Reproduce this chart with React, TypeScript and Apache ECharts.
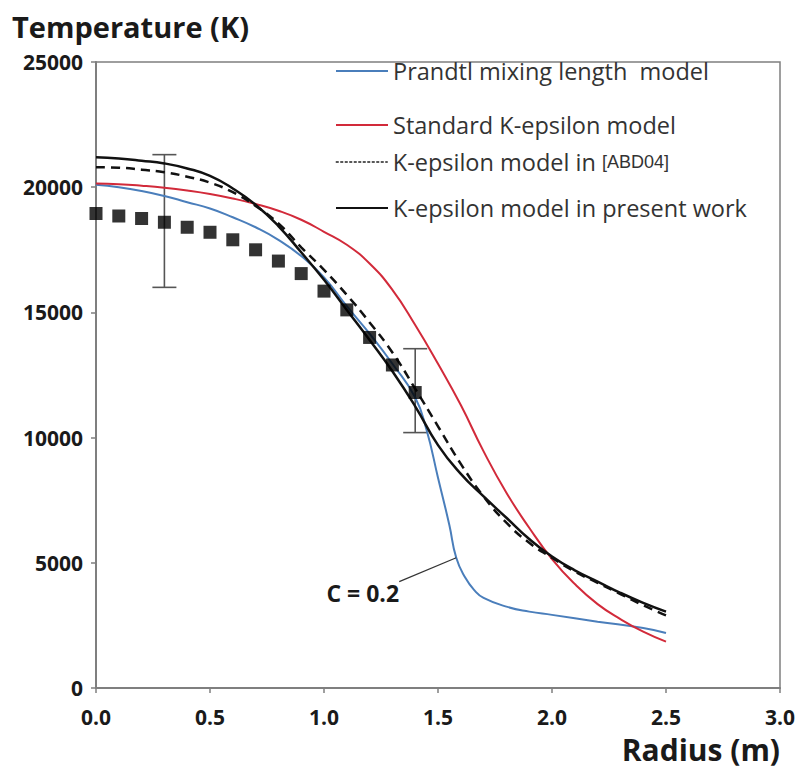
import React, { useEffect, useRef } from "react";
import * as echarts from "echarts";

// Radius (m) / temperature (K) samples for each model curve
const PRANDTL: [number, number][] = [
  [0, 20100], [0.1, 20000], [0.2, 19850], [0.3, 19650], [0.4, 19400], [0.5, 19150],
  [0.6, 18800], [0.7, 18400], [0.8, 17900], [0.9, 17250], [1.0, 16400], [1.1, 15250],
  [1.2, 14150], [1.3, 12950], [1.4, 11600], [1.45, 10300], [1.5, 8400], [1.55, 6500],
  [1.58, 5200], [1.62, 4400], [1.66, 3900], [1.7, 3600], [1.8, 3250], [1.9, 3050],
  [2.0, 2920], [2.2, 2650], [2.4, 2400], [2.5, 2200],
];
const STANDARD_KE: [number, number][] = [
  [0, 20150], [0.1, 20120], [0.2, 20060], [0.3, 19980], [0.4, 19870], [0.5, 19730],
  [0.6, 19550], [0.7, 19330], [0.8, 19060], [0.9, 18700], [1.0, 18220], [1.1, 17700],
  [1.2, 16950], [1.3, 15900], [1.4, 14500], [1.5, 12950], [1.6, 11300], [1.7, 9450],
  [1.8, 7800], [1.9, 6400], [2.0, 5150], [2.1, 4150], [2.2, 3350], [2.3, 2750],
  [2.4, 2250], [2.5, 1850],
];
const ABD04_KE: [number, number][] = [
  [0, 20800], [0.1, 20780], [0.2, 20700], [0.3, 20600], [0.4, 20420], [0.5, 20180],
  [0.6, 19800], [0.7, 19250], [0.8, 18550], [0.9, 17600], [1.0, 16700], [1.1, 15700],
  [1.2, 14600], [1.3, 13400], [1.4, 11950], [1.5, 10450], [1.6, 8950], [1.7, 7650],
  [1.8, 6600], [1.9, 5800], [2.0, 5200], [2.1, 4650], [2.2, 4200], [2.3, 3750],
  [2.4, 3300], [2.5, 2900],
];
const PRESENT_KE: [number, number][] = [
  [0, 21200], [0.1, 21150], [0.2, 21060], [0.3, 20950], [0.4, 20750], [0.5, 20450],
  [0.6, 19950], [0.7, 19300], [0.8, 18450], [0.9, 17400], [1.0, 16300], [1.1, 15100],
  [1.2, 13900], [1.3, 12650], [1.4, 11250], [1.5, 9700], [1.6, 8550], [1.7, 7650],
  [1.8, 6800], [1.9, 5950], [2.0, 5250], [2.1, 4700], [2.2, 4250], [2.3, 3800],
  [2.4, 3400], [2.5, 3050],
];
// Measured temperatures and their uncertainty ranges [r, low, high]
const MEASURED: [number, number][] = [
  [0, 18950], [0.1, 18850], [0.2, 18750], [0.3, 18600], [0.4, 18400], [0.5, 18200],
  [0.6, 17900], [0.7, 17500], [0.8, 17050], [0.9, 16550], [1.0, 15850], [1.1, 15100],
  [1.2, 14000], [1.3, 12900], [1.4, 11800],
];
const ERROR_BARS: [number, number, number][] = [
  [0.3, 16000, 21300],
  [1.4, 10200, 13550],
];

const X_TICKS = { min: 0, max: 3, interval: 0.5 };
const Y_TICKS = { min: 0, max: 25000, interval: 5000 };

const NAMES = [
  "Prandtl mixing length  model",
  "Standard K-epsilon model",
  "K-epsilon model in [ABD04]",
  "K-epsilon model in present work",
];

// Leader line of the "C = 0.2" note: from the label to a point on the Prandtl curve
const NOTE_TEXT = "C = 0.2";
const NOTE_AT: [number, number] = [1.17, 3800];
const NOTE_FROM: [number, number] = [1.33, 4250];
const NOTE_TO = PRANDTL[18];

const BLUE = "#4a7ebb";
const RED = "#d22a3a";
const DARK = "#111111";
const AXIS = "#7f7f7f";
const LABEL_FONT = "Open Sans";
const LEGEND_FONT = "Open Sans";

export default function App() {
  const ref = useRef<HTMLDivElement>(null);

  useEffect(() => {
    if (!ref.current) return;
    const chart = echarts.init(ref.current, undefined, { renderer: "svg" });

    const legendBase = {
      left: 335,
      padding: 0,
      itemWidth: 52,
      itemHeight: 14,
      itemGap: 0,
      orient: "horizontal" as const,
      itemStyle: { opacity: 0 },
      textStyle: { fontFamily: LEGEND_FONT, fontSize: 23.5, color: "#333" },
      selectedMode: false,
    };

    const lineBase = {
      type: "line" as const,
      symbol: "none",
      showSymbol: false,
      smooth: 0.5,
      z: 3,
    };

    chart.setOption({
      animation: false,
      backgroundColor: "#ffffff",
      title: [
        {
          text: "Temperature (K)",
          left: 12,
          top: 12,
          padding: 0,
          textStyle: { fontFamily: LABEL_FONT, fontWeight: "bold", fontSize: 29, color: "#1a1a1a" },
        },
        {
          text: "Radius (m)",
          right: 20,
          top: 734,
          padding: 0,
          textStyle: { fontFamily: LABEL_FONT, fontWeight: "bold", fontSize: 30, lineHeight: 30, color: "#1a1a1a" },
        },
      ],
      legend: [
        { ...legendBase, top: 59, data: [NAMES[0]] },
        { ...legendBase, top: 113, data: [NAMES[1]] },
        {
          ...legendBase,
          top: 150,
          data: [NAMES[2]],
          lineStyle: { type: [3, 1.5], width: 1.5, color: "#222" },
          formatter: () => "{a|K-epsilon model in }{b|[ABD04]}",
          textStyle: {
            ...legendBase.textStyle,
            rich: {
              a: { fontFamily: LEGEND_FONT, fontSize: 23.5, color: "#333" },
              b: { fontFamily: "Liberation Sans", fontSize: 18, color: "#333" },
            },
          },
        },
        { ...legendBase, top: 196, data: [NAMES[3]] },
      ],
      grid: {
        left: 96,
        right: 20,
        top: 62,
        bottom: 84,
        show: true,
        borderColor: AXIS,
        borderWidth: 1.5,
        outerBoundsMode: "none",
        containLabel: false,
      },
      xAxis: {
        type: "value",
        ...X_TICKS,
        axisLine: { show: true, onZero: false, lineStyle: { color: AXIS, width: 2 } },
        axisTick: { show: true, length: 5, lineStyle: { color: AXIS, width: 1.5 } },
        splitLine: { show: false },
        axisLabel: {
          margin: 18,
          fontFamily: LABEL_FONT,
          fontWeight: "bold",
          fontSize: 21,
          lineHeight: 22,
          color: "#1a1a1a",
          formatter: (v: number) => v.toFixed(1),
        },
      },
      yAxis: {
        type: "value",
        ...Y_TICKS,
        axisLine: { show: true, lineStyle: { color: AXIS, width: 2 } },
        axisTick: { show: true, length: 5, lineStyle: { color: AXIS, width: 1.5 } },
        splitLine: { show: false },
        axisLabel: {
          margin: 13,
          fontFamily: LABEL_FONT,
          fontWeight: "bold",
          fontSize: 21,
          color: "#1a1a1a",
          formatter: (v: number) => String(v),
        },
      },
      series: [
        {
          ...lineBase,
          name: NAMES[0],
          data: PRANDTL,
          lineStyle: { color: BLUE, width: 2 },
          itemStyle: { color: BLUE },
          markLine: {
            silent: true,
            symbol: "none",
            label: { show: false },
            lineStyle: { color: "#333", width: 1.2, type: "solid" },
            data: [[{ coord: NOTE_FROM }, { coord: NOTE_TO }]],
          },
          markPoint: {
            silent: true,
            symbolSize: 0,
            data: [{ coord: NOTE_AT, value: NOTE_TEXT }],
            label: {
              show: true,
              position: "inside",
              formatter: NOTE_TEXT,
              fontFamily: LABEL_FONT,
              fontWeight: "bold",
              fontSize: 23,
              color: "#1a1a1a",
            },
          },
        },
        {
          ...lineBase,
          name: NAMES[1],
          data: STANDARD_KE,
          lineStyle: { color: RED, width: 2 },
          itemStyle: { color: RED },
        },
        {
          ...lineBase,
          name: NAMES[2],
          data: ABD04_KE,
          lineStyle: { color: DARK, width: 2.5, type: [9, 6] },
          itemStyle: { color: DARK },
        },
        {
          ...lineBase,
          name: NAMES[3],
          data: PRESENT_KE,
          lineStyle: { color: DARK, width: 2.5 },
          itemStyle: { color: DARK },
        },
        {
          type: "scatter",
          name: "Measured",
          data: MEASURED,
          symbol: "rect",
          symbolSize: 13,
          itemStyle: { color: "#000" },
          z: 4,
        },
        {
          type: "custom",
          name: "Error",
          data: ERROR_BARS,
          z: 2,
          renderItem: (_params: any, api: any) => {
            const x = api.value(0);
            const lo = api.coord([x, api.value(1)]);
            const hi = api.coord([x, api.value(2)]);
            const half = 12;
            const style = { stroke: "#555", lineWidth: 1.6 };
            return {
              type: "group",
              children: [
                { type: "line", shape: { x1: lo[0], y1: lo[1], x2: hi[0], y2: hi[1] }, style },
                { type: "line", shape: { x1: hi[0] - half, y1: hi[1], x2: hi[0] + half, y2: hi[1] }, style },
                { type: "line", shape: { x1: lo[0] - half, y1: lo[1], x2: lo[0] + half, y2: lo[1] }, style },
              ],
            };
          },
        },
      ],
    });

    return () => chart.dispose();
  }, []);

  // Pinned to the page corner so the body's default margin does not offset the chart
  return (
    <div
      ref={ref}
      style={{ position: "absolute", left: 0, top: 0, width: 800, height: 772 }}
    />
  );
}
